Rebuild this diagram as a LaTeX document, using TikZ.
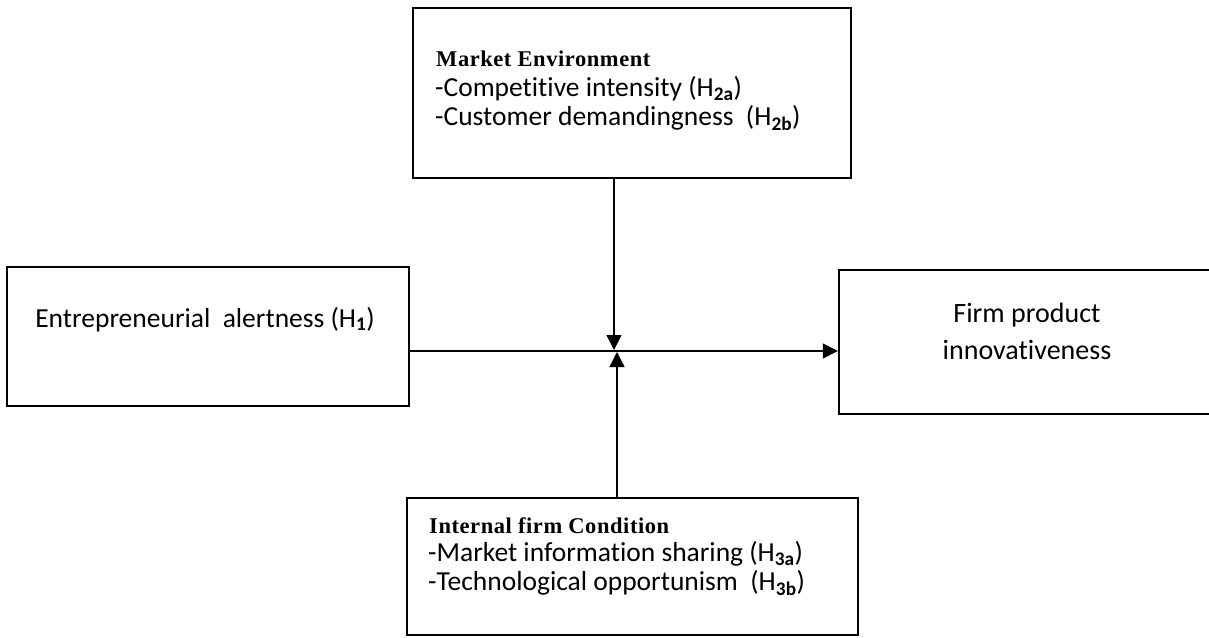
\documentclass[tikz,border=0pt]{standalone}
\usepackage{fontspec}
\setmainfont[Ligatures={NoCommon,NoContextual}]{Carlito}
\newfontfamily\hdfont[LetterSpace=2.5]{Liberation Serif}
\usetikzlibrary{arrows.meta}
\newcommand\tightlines{\lineskiplimit -20pt\relax}
\begin{document}
\begin{tikzpicture}[x=1pt,y=-1pt,
  box/.style={draw=black,line width=2.4pt,inner sep=0pt},
  arr/.style={line width=1.3pt,-{Triangle[length=15pt,width=15pt]}},
  body/.style={font={\fontsize{27.5}{29}\selectfont\tightlines},inner sep=0pt,align=left},
  head/.style={font={\hdfont\bfseries\fontsize{22.5}{24}\selectfont},inner sep=0pt,anchor=base west}]
\useasboundingbox (0,0) rectangle (1209,637);
% boxes
\node[box,minimum width=438pt,minimum height=170pt] (top) at (632,93) {};
\node[box,minimum width=402pt,minimum height=139pt] (left) at (208,336.5) {};
\node[box,minimum width=376pt,minimum height=144pt] (right) at (1027,342) {};
\node[box,minimum width=451pt,minimum height=137pt] (bot) at (632.5,566.5) {};
% texts
\node[head] (th) at (436,66) {Market Environment};
\node[body,anchor=north west] (t) at (435,76) {-Competitive\ intensity (H\textsubscript{\textbf{2a}})\\-Customer demandingness\ \ (H\textsubscript{\textbf{2b}})};
\node[body,anchor=base] (tl) at (205,327) {Entrepreneurial\ \ alertness (H\textsubscript{\textbf{1}})};
\node[body,anchor=base,align=center,font={\fontsize{28}{37}\selectfont}] (tr) at (1027,359) {Firm product\\innovativeness};
\node[head] (bh) at (429,533) {Internal firm Condition};
\node[body,anchor=north west] (b) at (428,541) {-Market information sharing (H\textsubscript{\textbf{3a}})\\-Technological opportunism\ \ (H\textsubscript{\textbf{3b}})};
% connectors
\coordinate (j) at (615,351);
\coordinate (dn) at (614,350);
\coordinate (up) at (617,352);
\draw[arr] (left.east |- j) -- (right.west |- j);
\draw[arr] (top.south -| dn) -- (dn);
\draw[arr] (bot.north -| up) -- (up);
\end{tikzpicture}
\end{document}
